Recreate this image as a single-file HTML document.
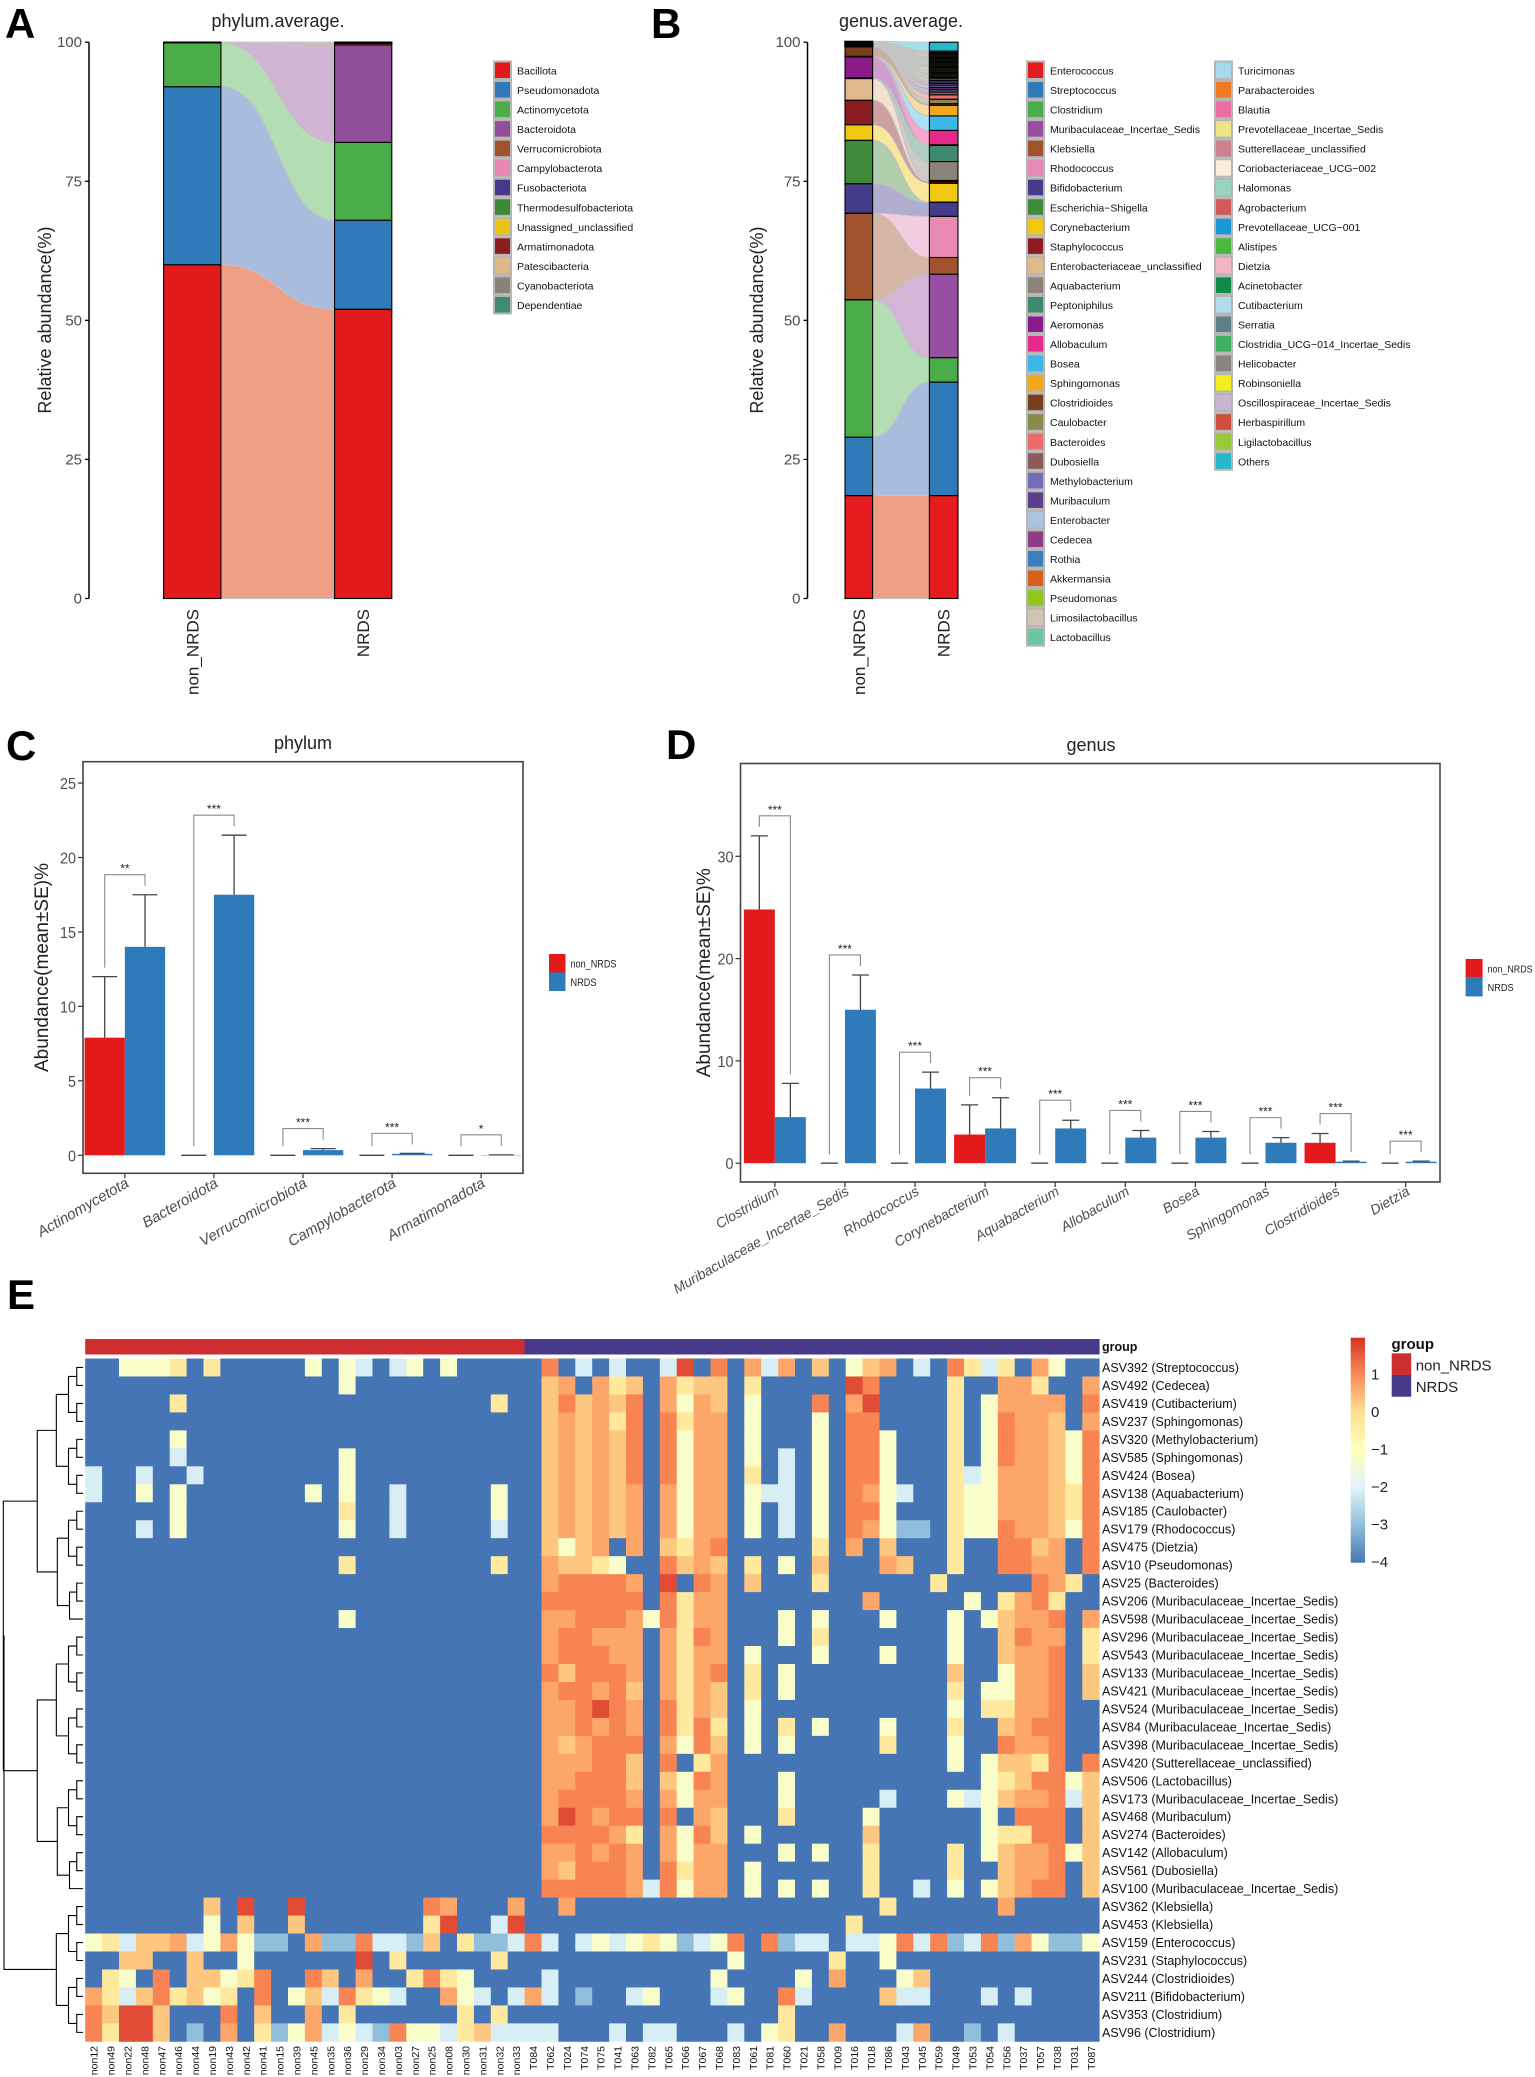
<!DOCTYPE html>
<html><head><meta charset="utf-8"><title>Microbiome figure</title>
<style>
html,body{margin:0;padding:0;background:#fff;}
svg{display:block;font-family:"Liberation Sans",Arial,sans-serif;}
</style></head>
<body>
<svg id="fig" xmlns="http://www.w3.org/2000/svg" width="1535" height="2077" viewBox="0 0 1535 2077">
<rect x="0" y="0" width="1535" height="2077" fill="#fff"/>
<defs>
<linearGradient id="cbar" x1="0" y1="1" x2="0" y2="0">
<stop offset="0" stop-color="#4575b4"/><stop offset="0.1667" stop-color="#91bfdb"/><stop offset="0.3333" stop-color="#e0f3f8"/><stop offset="0.5" stop-color="#ffffbf"/><stop offset="0.6667" stop-color="#fee090"/><stop offset="0.8333" stop-color="#fc8d59"/><stop offset="1" stop-color="#d73027"/>
</linearGradient>
</defs>
</svg>
<script>
// ---------- Panel A data ----------
const phylumNames = ["Bacillota","Pseudomonadota","Actinomycetota","Bacteroidota","Verrucomicrobiota","Campylobacterota","Fusobacteriota","Thermodesulfobacteriota","Unassigned_unclassified","Armatimonadota","Patescibacteria","Cyanobacteriota","Dependentiae"];
const phylumColors = ["#e31a1c","#2f7ab9","#4aad4a","#914f9a","#a0522d","#e887b2","#45398a","#3d8a36","#eec213","#8b1d22","#deb887","#8a8278","#3e8a72"];
const phylumNon = [60,32,7.9,0.05,0.01,0.01,0.01,0.005,0.005,0.003,0.003,0.002,0.002];
const phylumNrds = [52,16,14,17.5,0.3,0.1,0.05,0.02,0.01,0.01,0.005,0.003,0.002];
// ---------- Panel B data ----------
const genusNames = ["Enterococcus","Streptococcus","Clostridium","Muribaculaceae_Incertae_Sedis","Klebsiella","Rhodococcus","Bifidobacterium","Escherichia\u2212Shigella","Corynebacterium","Staphylococcus","Enterobacteriaceae_unclassified","Aquabacterium","Peptoniphilus","Aeromonas","Allobaculum","Bosea","Sphingomonas","Clostridioides","Caulobacter","Bacteroides","Dubosiella","Methylobacterium","Muribaculum","Enterobacter","Cedecea","Rothia","Akkermansia","Pseudomonas","Limosilactobacillus","Lactobacillus","Turicimonas","Parabacteroides","Blautia","Prevotellaceae_Incertae_Sedis","Sutterellaceae_unclassified","Coriobacteriaceae_UCG\u2212002","Halomonas","Agrobacterium","Prevotellaceae_UCG\u2212001","Alistipes","Dietzia","Acinetobacter","Cutibacterium","Serratia","Clostridia_UCG\u2212014_Incertae_Sedis","Helicobacter","Robinsoniella","Oscillospiraceae_Incertae_Sedis","Herbaspirillum","Ligilactobacillus","Others"];
const genusColors = ["#e41a1c","#2f7ab9","#4aad4a","#984ea3","#a0522d","#e889b5","#463c8c","#3e8a3a","#f0c814","#8b1c22","#e0b88a","#8a8378","#3d8a6e","#8b1a8b","#e7298a","#3bb8e8","#f0a81c","#7a3e1e","#8a8a4a","#ec6a6a","#8a5a5e","#7070b8","#5a3e8a","#aac4e0","#8a3e8a","#3a7ec0","#d8601e","#94c41e","#d0c4b4","#6ec4a4","#a8d8ec","#f07a22","#ec6ea4","#ece48a","#d0808a","#fcecdc","#98d4c0","#d45858","#1a98d4","#4ab83c","#f4b4c4","#108a44","#b0dcec","#608088","#40b060","#8a8480","#f4ec1c","#c8b4d4","#d04c3c","#98c83c","#28b8c8"];
const genusNon = [18.5,10.5,24.7,0.02,15.5,0.05,5.3,7.8,2.8,4.4,3.9,0.05,0.05,3.8,0.02,0.02,0.05,1.7,0.03,0.03,0.03,0.03,0.03,0.03,0.03,0.03,0.03,0.03,0.03,0.03,0.03,0.03,0.03,0.03,0.03,0.03,0.03,0.03,0.03,0.03,0.03,0.03,0.03,0.03,0.03,0.03,0.03,0.03,0.03,0.03,0.05];
const genusNrds = [18.5,20.4,4.4,15,3,7.4,2.5,0.05,3.4,0.3,0.2,3.4,2.9,0.1,2.6,2.6,1.9,0.3,0.8,0.8,0.5,0.4,0.4,0.3,0.4,0.3,0.3,0.3,0.225,0.225,0.225,0.225,0.225,0.225,0.225,0.225,0.225,0.225,0.225,0.225,0.225,0.225,0.225,0.225,0.225,0.225,0.225,0.225,0.225,0.225,1.6];
const stackTicks = [0,25,50,75,100];
// ---------- Panel C data ----------
const phylaC = ["Actinomycetota","Bacteroidota","Verrucomicrobiota","Campylobacterota","Armatimonadota"];
const cNonMean = [7.9,0,0,0,0];
const cNonSE = [4.1,0,0,0,0];
const cNrdsMean = [14,17.5,0.35,0.1,0.02];
const cNrdsSE = [3.5,4,0.1,0.03,0.01];
const cSig = ["**","***","***","***","*"];
const cTicks = [0,5,10,15,20,25];
// ---------- Panel D data ----------
const generaD = ["Clostridium","Muribaculaceae_Incertae_Sedis","Rhodococcus","Corynebacterium","Aquabacterium","Allobaculum","Bosea","Sphingomonas","Clostridioides","Dietzia"];
const dNonMean = [24.8,0,0,2.8,0,0,0,0,2.0,0];
const dNonSE = [7.2,0,0,2.9,0,0,0,0,0.9,0];
const dNrdsMean = [4.5,15,7.3,3.4,3.4,2.5,2.5,2.0,0.15,0.15];
const dNrdsSE = [3.3,3.4,1.6,3.0,0.8,0.7,0.6,0.5,0.05,0.05];
const dSig = ["***","***","***","***","***","***","***","***","***","***"];
const dTicks = [0,10,20,30];
// ---------- Panel E data ----------
const sampleLabels = ["non12","non49","non22","non48","non47","non46","non44","non19","non43","non42","non41","non15","non39","non45","non35","non36","non29","non34","non03","non27","non25","non08","non30","non31","non32","non33","T084","T062","T024","T074","T075","T041","T063","T082","T065","T066","T067","T068","T083","T061","T081","T060","T021","T058","T009","T016","T018","T086","T043","T045","T059","T049","T053","T054","T056","T037","T057","T038","T031","T087"];
const sampleGroups = "NNNNNNNNNNNNNNNNNNNNNNNNNNRRRRRRRRRRRRRRRRRRRRRRRRRRRRRRRRRR";
const asvLabels = ["ASV392 (Streptococcus)","ASV492 (Cedecea)","ASV419 (Cutibacterium)","ASV237 (Sphingomonas)","ASV320 (Methylobacterium)","ASV585 (Sphingomonas)","ASV424 (Bosea)","ASV138 (Aquabacterium)","ASV185 (Caulobacter)","ASV179 (Rhodococcus)","ASV475 (Dietzia)","ASV10 (Pseudomonas)","ASV25 (Bacteroides)","ASV206 (Muribaculaceae_Incertae_Sedis)","ASV598 (Muribaculaceae_Incertae_Sedis)","ASV296 (Muribaculaceae_Incertae_Sedis)","ASV543 (Muribaculaceae_Incertae_Sedis)","ASV133 (Muribaculaceae_Incertae_Sedis)","ASV421 (Muribaculaceae_Incertae_Sedis)","ASV524 (Muribaculaceae_Incertae_Sedis)","ASV84 (Muribaculaceae_Incertae_Sedis)","ASV398 (Muribaculaceae_Incertae_Sedis)","ASV420 (Sutterellaceae_unclassified)","ASV506 (Lactobacillus)","ASV173 (Muribaculaceae_Incertae_Sedis)","ASV468 (Muribaculum)","ASV274 (Bacteroides)","ASV142 (Allobaculum)","ASV561 (Dubosiella)","ASV100 (Muribaculaceae_Incertae_Sedis)","ASV362 (Klebsiella)","ASV453 (Klebsiella)","ASV159 (Enterococcus)","ASV231 (Staphylococcus)","ASV244 (Clostridioides)","ASV211 (Bifidobacterium)","ASV353 (Clostridium)","ASV96 (Clostridium)"];
const levelValues = [-4,-3,-2.1,-1.2,-0.3,0.3,0.7,1.1,1.7];
const zRows = [
"00333404000003032023030000"+"0702020028070626050356020742406300",
"00000000000000030000000000"+"0560645064550400000870000400664006",
"00000400000000000000000040"+"0575657063650300070680000403666607",
"00000000000000000000000000"+"0565647074660300030770000403766506",
"00000300000000000000000000"+"0565657073660300030773000403766537",
"00000200000000030000000000"+"0565657073660302030773000403766537",
"20020020000000030000000000"+"0565657073660402030773000423666537",
"20030300000003030020000030"+"0565656063660322030763200433666547",
"00000300000000040020000030"+"0565656063660302030773000433666547",
"00020300000000030020000020"+"0565656063660302030763110433766537",
"00000000000000000000000000"+"0535606054670000040605000400775607",
"00000000000000040000000040"+"0655430075650403050006500400776607",
"00000000000000000000000000"+"0677776080760500040000004000007640",
"00000000000000000000000000"+"0777777074660000000060000030467400",
"00000000000000030000000000"+"0667776374660003030003000303566706",
"00000000000000000000000000"+"0677666064760003040000000300576604",
"00000000000000000000000000"+"0677766064660300030003000300566704",
"00000000000000000000000000"+"0757776064670403000000000500366705",
"00000000000000000000000000"+"0677675064650403000000000403366705",
"00000000000000000000000000"+"0667876074650300000000000304466700",
"00000000000000000000000000"+"0667676074740304030003000400567700",
"00000000000000000000000000"+"0656777063750303000004000300766700",
"00000000000000000000000000"+"0666775070460000000000000303554707",
"00000000000000000000000000"+"0667775053760003000000000003457735",
"00000000000000000000000000"+"0677776063660003000002000323566725",
"00000000000000000000000000"+"0687677070650004000030000003077705",
"00000000000000000000000000"+"0777764063750300000050000003447705",
"00000000000000000000000000"+"0667676063660003030040000403566735",
"00000000000000000000000000"+"0657776074660300000040000400566705",
"00000000000000000000000000"+"0777776273660303030040020303567705",
"00000005080080000000760006"+"0060000000000000000004000000600000",
"00000003050050000000480028"+"0000000000000000000400000000000000",
"34255623631106117221504112"+"7202323431237071220223727127163113",
"00550050030000008040000040"+"0000000000003000004003000000000000",
"04307055347007506004743000"+"0200000000030000306000350000000000",
"64257453407035274320063202"+"6201002300023007200005220002020000",
"75885000705006040000004040"+"0000000000000004000000000000000000",
"74885010604136232173324522"+"2200020220002034006000260010200000"
];
const scaleTicks = [1,0,-1,-2,-3,-4];

const NS = "http://www.w3.org/2000/svg";
const svg = document.getElementById("fig");
function mk(tag, parent){ const e = document.createElementNS(NS, tag); (parent||svg).appendChild(e); return e; }
function set(e, o){ for (const k in o) e.setAttribute(k, o[k]); return e; }
function grp(name){ const g = mk("g");   return g; }
function text(parent, x, y, s, size, extra){
  const t = mk("text", parent);
  set(t, {x:x, y:y, "font-size":size, fill:"#222"});
  if (extra) set(t, extra);
  t.textContent = s;
  return t;
}
const flowOverride = {"#e31a1c":"#ef9f86","#e41a1c":"#ef9f86","#2f7ab9":"#a9bcdd"};

// ---------- Panel letters ----------
const letters = [["A",5,38],["B",651,38],["C",6,760],["D",666,759],["E",7,1309]];
for (const L of letters){
  const t = text(svg, L[1], L[2], L[0], 42, {"font-weight":"bold", fill:"#000"});
  
  
}

// ---------- Stacked alluvial panels ----------
function yStack(v){ return 598.5 - v * 5.563; }
function alluvial(gname, axisX, b1, b2, names, colors, nonV, nrdsV, title, titleX, ytitleX, legendCols){
  const g = grp(gname);
  const tt = text(g, titleX, 27, title, 18, {"text-anchor":"middle"});
  
  
  const ax = mk("line", g); set(ax, {x1:axisX, y1:yStack(100), x2:axisX, y2:yStack(0), stroke:"#000", "stroke-width":1.5});
  
  
  for (const v of stackTicks){
    const tk = mk("line", g); set(tk, {x1:axisX-4, y1:yStack(v), x2:axisX, y2:yStack(v), stroke:"#000", "stroke-width":1.3});
    
    
    const tl = text(g, axisX-7, yStack(v)+5, String(v), 15, {"text-anchor":"end", fill:"#4d4d4d"});
    
    
  }
  const yt = text(g, 0, 0, "Relative abundance(%)", 18, {"text-anchor":"middle", transform:"translate("+ytitleX+",320) rotate(-90)"});
  
  
  let c0 = 0, c1 = 0;
  const xm = (b1[1] + b2[0]) / 2;
  const segs = [];
  for (let i = 0; i < names.length; i++){
    const a0 = c0, a1 = c0 + nonV[i], r0 = c1, r1 = c1 + nrdsV[i];
    c0 = a1; c1 = r1;
    segs.push([a0,a1,r0,r1]);
    const rb = mk("path", g);
    const x0 = b1[1], x1 = b2[0];
    const d = "M"+x0+","+yStack(a1)+" C"+xm+","+yStack(a1)+" "+xm+","+yStack(r1)+" "+x1+","+yStack(r1)+
      " L"+x1+","+yStack(r0)+" C"+xm+","+yStack(r0)+" "+xm+","+yStack(a0)+" "+x0+","+yStack(a0)+" Z";
    const ov = flowOverride[colors[i]];
    set(rb, {d:d, fill: ov || colors[i], "fill-opacity": ov ? 1 : 0.42, stroke:"#c4c4c4", "stroke-width":0.9});
    
    
  }
  for (let i = 0; i < names.length; i++){
    const s = segs[i];
    const ra = mk("rect", g); set(ra, {x:b1[0], y:yStack(s[1]), width:b1[1]-b1[0], height:Math.max(0, yStack(s[0])-yStack(s[1])), fill:colors[i], stroke:"#000", "stroke-width":1.1});
    
    
    const rn = mk("rect", g); set(rn, {x:b2[0], y:yStack(s[3]), width:b2[1]-b2[0], height:Math.max(0, yStack(s[2])-yStack(s[3])), fill:colors[i], stroke:"#000", "stroke-width":1.1});
    
    
  }
  const xl1 = text(g, 0, 0, "non_NRDS", 17, {"text-anchor":"end", transform:"translate("+((b1[0]+b1[1])/2+6)+",609) rotate(-90)"});
  
  
  const xl2 = text(g, 0, 0, "NRDS", 17, {"text-anchor":"end", transform:"translate("+((b2[0]+b2[1])/2+6)+",609) rotate(-90)"});
  
  
  const lg = mk("g", g);
  
  
  for (let i = 0; i < names.length; i++){
    const col = legendCols.find(c => i >= c.start && i < c.start + c.n);
    const k = i - col.start;
    const y = 61.5 + k * 19.54;
    const bx = mk("rect", lg); set(bx, {x:col.x, y:y, width:17, height:17.5, fill:colors[i], stroke:"#b5b5b5", "stroke-width":2});
    
    
    const lt = text(lg, col.x+23, y+13, names[i], 10.5, {fill:"#111"});
    
    
  }
}
alluvial("panel-a-phylum-average", 89, [163.6,220.9], [334.6,391.8], phylumNames, phylumColors, phylumNon, phylumNrds, "phylum.average.", 278, 51, [{start:0, n:13, x:494}]);
alluvial("panel-b-genus-average", 807.5, [845,872.6], [929.4,958], genusNames, genusColors, genusNon, genusNrds, "genus.average.", 901, 763, [{start:0, n:30, x:1027}, {start:30, n:21, x:1215}]);

// ---------- Bar charts with error bars ----------
function barPanel(gname, box, yZero, perUnit, ticks, cats, nonM, nonS, nrM, nrS, sig, title, titleX, titleY, bw, capW, labY, labSize, ytX, legend, legFont, pad){
  const g = grp(gname);
  const y = v => yZero - v * perUnit;
  const tt = text(g, titleX, titleY, title, 18, {"text-anchor":"middle"});
  
  
  const n = cats.length;
  const step = (box.x1 - box.x0) / (n - 1 + pad);
  const cx = i => box.x0 + step * (pad/2 + i);
  for (const v of ticks){
    const tk = mk("line", g); set(tk, {x1:box.x0-5, y1:y(v), x2:box.x0, y2:y(v), stroke:"#333", "stroke-width":1.2});
    
    
    const tl = text(g, box.x0-7, y(v)+6, String(v), 16, {"text-anchor":"end", fill:"#4d4d4d", "textLength":String(v).length*8, "lengthAdjust":"spacingAndGlyphs"});
    
    
  }
  const yt = text(g, 0, 0, "Abundance(mean\u00b1SE)%", 19, {"text-anchor":"middle", transform:"translate("+ytX+","+(box.y0+box.y1)/2+") rotate(-90)"});
  
  
  for (let i = 0; i < n; i++){
    const c = cx(i);
    const r1 = mk("rect", g); set(r1, {x:c-bw, y:y(nonM[i]), width:bw, height:Math.max(0, y(0)-y(nonM[i])), fill:"#e31a1c"});
    
    
    const r2 = mk("rect", g); set(r2, {x:c, y:y(nrM[i]), width:bw, height:Math.max(0, y(0)-y(nrM[i])), fill:"#2f7ab9"});
    
    
    const pairs = [[c-bw/2, nonM[i], nonS[i]], [c+bw/2, nrM[i], nrS[i]]];
    for (const p of pairs){
      const eb = mk("path", g);
      set(eb, {d:"M"+p[0]+","+y(p[1])+" V"+y(p[1]+p[2])+" M"+(p[0]-capW/2)+","+y(p[1]+p[2])+" H"+(p[0]+capW/2), stroke:"#444", "stroke-width":1.3, fill:"none"});
      
      
    }
    const leftEnd = y(nonM[i]+nonS[i]) - 9, rightEnd = y(nrM[i]+nrS[i]) - 9;
    const top = Math.min(leftEnd, rightEnd) - 11;
    const br = mk("path", g);
    set(br, {d:"M"+(c-bw/2)+","+leftEnd+" V"+top+" H"+(c+bw/2)+" V"+rightEnd, stroke:"#8a8a8a", "stroke-width":1.1, fill:"none"});
    
    
    const st = text(g, c, top-2, sig[i], 12, {"text-anchor":"middle", fill:"#222"});
    
    
    const xt = mk("line", g); set(xt, {x1:c, y1:box.y1, x2:c, y2:box.y1+5, stroke:"#333", "stroke-width":1.2});
    
    
    const xl = text(g, 0, 0, cats[i], labSize, {"text-anchor":"end", "font-style":"italic", fill:"#4d4d4d", transform:"translate("+(c+5)+","+labY+") rotate(-30)"});
    
    
  }
  const fr = mk("rect", g); set(fr, {x:box.x0, y:box.y0, width:box.x1-box.x0, height:box.y1-box.y0, fill:"none", stroke:"#444", "stroke-width":1.6});
  
  
  const lg = mk("g", g);
  
  
  const items = [["non_NRDS","#e31a1c",legend.tw1],["NRDS","#2f7ab9",legend.tw2]];
  items.forEach((it, k) => {
    const r = mk("rect", lg); set(r, {x:legend.x, y:legend.y + k*legend.h, width:legend.w, height:legend.h, fill:it[1]});
    
    
    const t = text(lg, legend.x+legend.w+5, legend.y + k*legend.h + legend.h/2 + 4, it[0], legFont, {fill:"#222", textLength:it[2], lengthAdjust:"spacingAndGlyphs"});
    
    
  });
}
barPanel("panel-c-phylum", {x0:83, x1:523, y0:761.7, y1:1173.3}, 1155.3, 14.89, cTicks, phylaC, cNonMean, cNonSE, cNrdsMean, cNrdsSE, cSig, "phylum", 303, 749, 40.3, 25, 1186, 15, 48, {x:549, y:954, w:16.5, h:18.5, tw1:46, tw2:26}, 11, 0.94);
barPanel("panel-d-genus", {x0:740.5, x1:1440, y0:763.5, y1:1182}, 1163.2, 10.23, dTicks, generaD, dNonMean, dNonSE, dNrdsMean, dNrdsSE, dSig, "genus", 1091, 751, 31, 17, 1194, 14, 710, {x:1465.6, y:959, w:17, h:18.7, tw1:45, tw2:26}, 10, 0.98);

// ---------- Panel E heatmap ----------
const stops = [[-4,[69,117,180]],[-3,[145,191,219]],[-2,[224,243,248]],[-1,[255,255,191]],[0,[254,224,144]],[1,[252,141,89]],[2,[215,48,39]]];
function colorOf(v){
  v = Math.max(-4, Math.min(2, v));
  for (let i = 0; i < stops.length-1; i++){
    const a = stops[i], b = stops[i+1];
    if (v <= b[0]){
      const t = (v - a[0]) / (b[0] - a[0]);
      const c = a[1].map((x, j) => Math.round(x + (b[1][j] - x) * t));
      return "rgb(" + c.join(",") + ")";
    }
  }
  return "rgb(215,48,39)";
}
const gE = grp("panel-e-heatmap");
const hx0 = 85.2, hy0 = 1358.5, cw = 16.9, rh = 17.97;
const nCols = sampleLabels.length;
for (let c = 0; c < nCols; c++){
  const gb = mk("rect", gE); set(gb, {x:hx0 + c*cw, y:1339, width:cw+0.4, height:15.5, fill: sampleGroups[c] === "N" ? "#cf2e30" : "#46398a"});
  
  
}
const gl = text(gE, 1102, 1351, "group", 12.5, {"font-weight":"bold", fill:"#111"});


const cells = mk("g", gE);


for (let r = 0; r < zRows.length; r++){
  const row = zRows[r];
  for (let c = 0; c < nCols; c++){
    const d = parseInt(row[c] || "0", 10);
    const cell = mk("rect", cells);
    set(cell, {x:hx0 + c*cw, y:hy0 + r*rh, width:cw+0.4, height:rh+0.4, fill:colorOf(levelValues[d])});
    
    
  }
  const rl = text(gE, 1102, hy0 + r*rh + rh/2 + 4.5, asvLabels[r], 12.5, {fill:"#111"});
  
  
}
for (let c = 0; c < nCols; c++){
  const cl = text(gE, 0, 0, sampleLabels[c], 10.5, {"text-anchor":"end", fill:"#111", transform:"translate("+(hx0 + c*cw + cw/2 + 4)+",2046) rotate(-90)"});
  
  
}
const dg = mk("g", gE);


function build(a, b){
  if (a === b) return {y: hy0 + a*rh + rh/2, h: 0};
  const m = Math.floor((a + b) / 2);
  const l = build(a, m), r = build(m+1, b);
  return {y:(l.y + r.y)/2, h: Math.max(l.h, r.h) + 0.8 + 0.15*(b-a), l:l, r:r};
}
const topTree = build(0, 29), botTree = build(30, 37);
const root = {y:(topTree.y + botTree.y)/2, h: 12, l: topTree, r: botTree};
function hx(h){ return 83 - h * (79 / 12); }
function drawTree(n){
  if (!n.l) return;
  const p = mk("path", dg);
  set(p, {d:"M"+hx(n.l.h)+","+n.l.y+" H"+hx(n.h)+" V"+n.r.y+" H"+hx(n.r.h), stroke:"#000", "stroke-width":1.1, fill:"none"});
  
  
  drawTree(n.l); drawTree(n.r);
}
drawTree(root);
const lE = mk("g", gE);


const cb = mk("rect", lE); set(cb, {x:1350.7, y:1337.7, width:14.3, height:225, fill:"url(#cbar)"});


for (const v of scaleTicks){
  const yy = 1561.7 - (v + 4) * 37.5;
  const t = text(lE, 1371, yy + 5.5, v < 0 ? "\u2212" + Math.abs(v) : String(v), 15, {fill:"#222"});
  
  
}
const gt = text(lE, 1391.5, 1349, "group", 15, {"font-weight":"bold", fill:"#111"});


const k1 = mk("rect", lE); set(k1, {x:1391.7, y:1353.3, width:19.5, height:21.7, fill:"#cf2e30"});


const k2 = mk("rect", lE); set(k2, {x:1391.7, y:1375, width:19.5, height:21.7, fill:"#46398a"});


const e1 = text(lE, 1415.7, 1370.5, "non_NRDS", 15, {fill:"#222"});


const e2 = text(lE, 1415.7, 1392, "NRDS", 15, {fill:"#222"});


</script>
</body></html>
